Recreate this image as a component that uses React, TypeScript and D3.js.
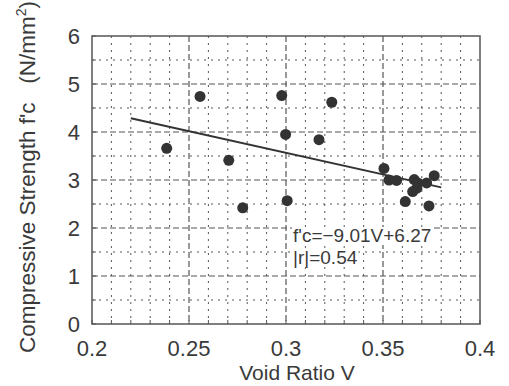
import React, { useEffect, useRef } from "react";
import * as d3 from "d3";

const voidRatio = [0.2385, 0.2557, 0.2705, 0.2777, 0.2978, 0.2998, 0.3006, 0.317, 0.3236, 0.3505, 0.3531, 0.357, 0.3661, 0.3675, 0.3653, 0.3725, 0.3764, 0.3615, 0.3737, 0.368];
const strength = [3.66, 4.74, 3.41, 2.42, 4.76, 3.95, 2.57, 3.84, 4.62, 3.24, 3.0, 2.99, 3.01, 2.83, 2.76, 2.94, 3.09, 2.55, 2.46, 2.94];
const xTicks = [0.2, 0.25, 0.3, 0.35, 0.4];
const yTicks = [0, 1, 2, 3, 4, 5, 6];
const fitSlope = -9.01;
const fitIntercept = 6.27;
const fitRange = [0.22, 0.38];
const eqLines = ["f'c=\u22129.01V+6.27", "|r|=0.54"];

const W = 509, H = 386;
const M = { left: 92, top: 36, right: 480, bottom: 324 };
const FONT = "'Liberation Sans', Arial, Helvetica, sans-serif";
const INK = "#3a3a3a";

export default function App() {
  const ref = useRef<SVGSVGElement>(null);
  useEffect(() => {
    const svg = d3.select(ref.current);
    svg.selectAll("*").remove();
    const x = d3.scaleLinear().domain([0.2, 0.4]).range([M.left, M.right]);
    const y = d3.scaleLinear().domain([0, 6]).range([M.bottom, M.top]);

    svg.append("rect").attr("width", W).attr("height", H).attr("fill", "#fff");

    const grid = svg.append("g");
    const xMinor = d3.range(0, 21).map((i) => 0.2 + i * 0.01);
    const yMinor = d3.range(0, 13).map((i) => i * 0.5);
    xMinor.forEach((v, i) => {
      if (i === 0 || i === 20) return;
      const major = i % 5 === 0;
      grid.append("line").attr("x1", x(v)).attr("x2", x(v)).attr("y1", M.top).attr("y2", M.bottom)
        .attr("stroke", "#555").attr("stroke-width", major ? 1.2 : 1)
        .attr("stroke-dasharray", major ? "6,3" : "2,5");
    });
    yMinor.forEach((v, i) => {
      if (i === 0 || i === 12) return;
      const major = i % 2 === 0;
      grid.append("line").attr("x1", M.left).attr("x2", M.right).attr("y1", y(v)).attr("y2", y(v))
        .attr("stroke", "#555").attr("stroke-width", major ? 1.2 : 1)
        .attr("stroke-dasharray", major ? "6,3" : "2,5");
    });

    // ticks
    xMinor.forEach((v) => {
      svg.append("line").attr("x1", x(v)).attr("x2", x(v)).attr("y1", M.bottom).attr("y2", M.bottom - 4)
        .attr("stroke", "#555");
    });
    yMinor.forEach((v) => {
      svg.append("line").attr("x1", M.left).attr("x2", M.left + 4).attr("y1", y(v)).attr("y2", y(v))
        .attr("stroke", "#555");
    });

    // equation text (one text element, two lines) with white backgrounds
    const eq = svg.append("g");
    const bgs = eq.append("g");
    const ex = x(0.3) + 7;
    const ey = 242;
    const lh = 22;
    const txt = eq.append("text").attr("font-family", FONT).attr("font-size", 19).attr("fill", INK);
    eqLines.forEach((t, i) => {
      const sp = txt.append("tspan").attr("x", ex).attr("y", ey + i * lh).text(t);
      const w = (sp.node() as SVGTSpanElement).getComputedTextLength();
      bgs.append("rect").attr("x", ex - 1).attr("y", ey + i * lh - 15).attr("width", w + 2)
        .attr("height", 18).attr("fill", "#fff");
    });

    // frame
    svg.append("rect").attr("x", M.left).attr("y", M.top).attr("width", M.right - M.left)
      .attr("height", M.bottom - M.top).attr("fill", "none").attr("stroke", "#555").attr("stroke-width", 1.5);

    // fit line
    const lineGen = d3.line<number>().x((v) => x(v)).y((v) => y(fitSlope * v + fitIntercept));
    svg.append("path").attr("d", lineGen(fitRange)).attr("stroke", "#333").attr("stroke-width", 2).attr("fill", "none");

    // points
    svg.append("g").selectAll("circle").data(voidRatio).join("circle")
      .attr("cx", (d) => x(d)).attr("cy", (_d, i) => y(strength[i])).attr("r", 5.5).attr("fill", "#333");

    // tick labels
    xTicks.forEach((v) => {
      svg.append("text").attr("x", x(v)).attr("y", M.bottom + 32).attr("text-anchor", "middle")
        .attr("font-family", FONT).attr("font-size", 22).attr("fill", INK).text(String(v));
    });
    yTicks.forEach((v) => {
      svg.append("text").attr("x", M.left - 12).attr("y", y(v) + 7.5).attr("text-anchor", "end")
        .attr("font-family", FONT).attr("font-size", 22).attr("fill", INK).text(String(v));
    });

    svg.append("text").attr("x", 297).attr("y", 380).attr("text-anchor", "middle")
      .attr("font-family", FONT).attr("font-size", 21).attr("fill", INK).text("Void Ratio V");

    const yt = svg.append("text").attr("transform", `translate(35,177) rotate(-90)`)
      .attr("text-anchor", "middle").attr("font-family", FONT).attr("font-size", 22.5).attr("fill", INK)
      .style("white-space", "pre");
    yt.append("tspan").text("Compressive Strength f'c   (N/mm");
    yt.append("tspan").attr("dy", -9).attr("font-size", 14).text("2");
    yt.append("tspan").attr("dy", 9).text(")");
  }, []);
  return (
    <svg ref={ref} width={W} height={H} style={{ position: "absolute", left: 0, top: 0 }} />
  );
}
